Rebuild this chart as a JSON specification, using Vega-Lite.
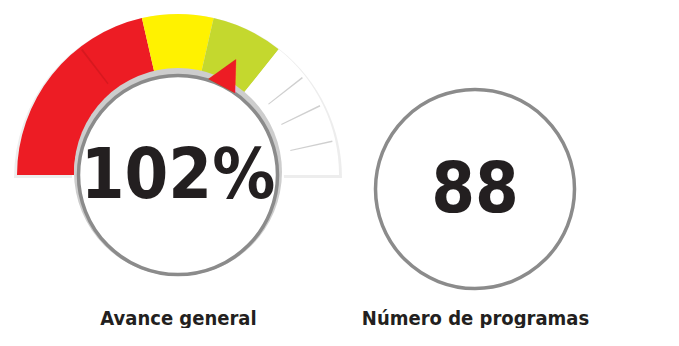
{
  "$schema": "https://vega.github.io/schema/vega-lite/v6.json",
  "width": 679,
  "height": 300,
  "padding": 0,
  "background": "white",
  "config": {"view": {"stroke": null}},
  "datasets": {
    "indicadores": [
      {"indicador": "Avance general", "valor": "102%"},
      {"indicador": "Número de programas", "valor": "88"}
    ],
    "segmentos": [
      {"indicador": "Avance general", "tramo": "rojo", "inicio": 0, "fin": 42.8},
      {"indicador": "Avance general", "tramo": "amarillo", "inicio": 42.8, "fin": 57.1},
      {"indicador": "Avance general", "tramo": "verde", "inicio": 57.1, "fin": 71.5},
      {"indicador": "Avance general", "tramo": "blanco", "inicio": 71.5, "fin": 100}
    ],
    "marcas": [
      {"indicador": "Avance general", "tramo": "rojo", "inicio": 29.0, "fin": 29.35},
      {"indicador": "Avance general", "tramo": "blanco", "inicio": 78.7, "fin": 79.0},
      {"indicador": "Avance general", "tramo": "blanco", "inicio": 85.4, "fin": 85.7},
      {"indicador": "Avance general", "tramo": "blanco", "inicio": 93.0, "fin": 93.3}
    ],
    "bisel": [{"indicador": "Avance general"}],
    "aguja": [{"indicador": "Avance general", "posicion": 64.7}]
  },
  "encoding": {
    "x": {
      "field": "indicador",
      "type": "nominal",
      "scale": {"type": "point", "padding": 0, "domain": ["Avance general", "Número de programas"], "range": [178, 475]},
      "axis": {
        "title": null,
        "domain": false,
        "ticks": false,
        "grid": false,
        "labelAngle": 0,
        "labelLimit": 0,
        "labelOverlap": false,
        "labelFont": "DejaVu Sans Condensed, sans-serif",
        "labelFontSize": 20,
        "labelFontWeight": "bold",
        "labelColor": "#231f20",
        "labelPadding": 8
      }
    },
    "y": {
      "field": "indicador",
      "type": "nominal",
      "scale": {"type": "point", "padding": 0, "domain": ["Avance general", "Número de programas"], "range": [175, 189]},
      "axis": null
    }
  },
  "layer": [
    {
      "data": {"name": "segmentos"},
      "mark": {"type": "arc", "radius": 164, "radius2": 106, "yOffset": 3, "color": "#000000", "opacity": 0.07},
      "encoding": {
        "theta": {"field": "inicio", "type": "quantitative", "stack": null, "scale": {"domain": [0, 100], "range": [-1.5708, 1.5708]}},
        "theta2": {"field": "fin"}
      }
    },
    {
      "data": {"name": "segmentos"},
      "mark": {"type": "arc", "radius": 161, "radius2": 104},
      "encoding": {
        "theta": {"field": "inicio", "type": "quantitative", "stack": null},
        "theta2": {"field": "fin"},
        "color": {
          "field": "tramo",
          "type": "nominal",
          "scale": {"domain": ["rojo", "amarillo", "verde", "blanco"], "range": ["#ED1C24", "#FFF200", "#C4D82E", "#FFFFFF"]},
          "legend": null
        }
      }
    },
    {
      "data": {"name": "marcas"},
      "mark": {"type": "arc", "radius": 158, "radius2": 115, "opacity": 0.55},
      "encoding": {
        "theta": {"field": "inicio", "type": "quantitative", "stack": null},
        "theta2": {"field": "fin"},
        "fill": {
          "field": "tramo",
          "type": "nominal",
          "scale": {"domain": ["rojo", "blanco"], "range": ["#C4161C", "#A8A8A8"]},
          "legend": null
        }
      }
    },
    {
      "data": {"name": "bisel"},
      "mark": {"type": "point", "shape": "circle", "filled": true, "size": 43264, "yOffset": -3, "color": "#CDCDCD", "opacity": 1}
    },
    {
      "data": {"name": "indicadores"},
      "mark": {"type": "point", "shape": "circle", "size": 39601, "fill": "#FFFFFF", "stroke": "#8B8B8B", "strokeWidth": 3.5, "opacity": 1}
    },
    {
      "data": {"name": "aguja"},
      "mark": {"type": "text", "text": "▲", "radius": 116, "angle": 28, "fontSize": 40, "font": "DejaVu Sans", "color": "#ED1C24", "align": "center", "baseline": "middle"},
      "encoding": {
        "theta": {"field": "posicion", "type": "quantitative", "stack": null}
      }
    },
    {
      "data": {"name": "indicadores"},
      "mark": {"type": "text", "fontSize": 70, "fontWeight": "bold", "font": "DejaVu Sans Condensed, sans-serif", "color": "#231F20", "align": "center", "baseline": "middle", "dy": 2},
      "encoding": {
        "text": {"field": "valor", "type": "nominal"}
      }
    }
  ]
}
